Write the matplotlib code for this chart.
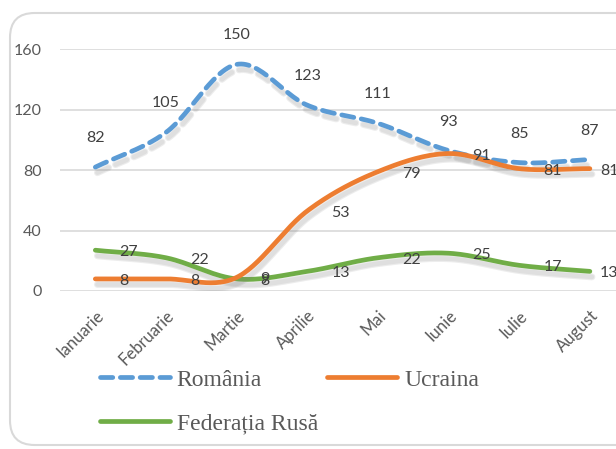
import numpy as np
import matplotlib
matplotlib.use("Agg")
import matplotlib.pyplot as plt
import matplotlib.patheffects as pe
from matplotlib.patches import FancyBboxPatch
from matplotlib.lines import Line2D

months = ["Ianuarie", "Februarie", "Martie", "Aprilie", "Mai", "Iunie", "Iulie", "August"]
romania = [82, 105, 150, 123, 111, 93, 85, 87]
ucraina = [8, 8, 9, 53, 79, 91, 81, 81]
rusia = [27, 22, 8, 13, 22, 25, 17, 13]
yticks = [0, 40, 80, 120, 160]

C_RO = "#5B9BD5"
C_UA = "#ED7D31"
C_RU = "#70AD47"

W, H = 616, 449
fig = plt.figure(figsize=(W / 100, H / 100), dpi=100)

# rounded chart border
border = FancyBboxPatch((10 / W, 4 / H), (W + 40) / W, (H - 13 - 4) / H,
                        boxstyle="round,pad=0,rounding_size=0.04",
                        transform=fig.transFigure, fc="none", ec="#D9D9D9", lw=1.5,
                        mutation_aspect=W / H, zorder=-1)
fig.patches.append(border)

ax = fig.add_axes([60 / W, (H - 291) / H, (W - 60) / W, (291 - 49.3) / H])
ax.set_facecolor("none")
ax.set_xlim(-0.5, 7.37)
ax.set_ylim(0, 160)
for s in ax.spines.values():
    s.set_visible(False)
ax.set_yticks(yticks)
ax.yaxis.grid(True, color="#D9D9D9", lw=1.2)
ax.set_axisbelow(True)
ax.tick_params(axis="both", length=0, colors="#595959")
ax.tick_params(axis="y", pad=13, labelsize=11.5)
ax.set_xticks(range(len(months)))
ax.set_xticklabels(months, rotation=45, ha="right", va="top", rotation_mode="anchor",
                   fontfamily="Lato", fontsize=12)
for t in ax.get_yticklabels():
    t.set_fontfamily("Lato")
ax.tick_params(axis="x", pad=12)


def smooth(y, n=30):
    x = np.arange(len(y), dtype=float)
    y = np.asarray(y, dtype=float)
    P = np.column_stack([x, y])
    P = np.vstack([P[0] * 2 - P[1], P, P[-1] * 2 - P[-2]])
    out = []
    for i in range(1, len(P) - 2):
        p0, p1, p2, p3 = P[i - 1], P[i], P[i + 1], P[i + 2]
        t = np.linspace(0, 1, n, endpoint=(i == len(P) - 3))[:, None]
        b1 = p1 + (p2 - p0) / 6
        b2 = p2 - (p3 - p1) / 6
        pts = ((1 - t) ** 3) * p1 + 3 * ((1 - t) ** 2) * t * b1 + 3 * (1 - t) * t ** 2 * b2 + t ** 3 * p2
        out.append(pts)
    out = np.vstack(out)
    return out[:, 0], out[:, 1]


shadow = [pe.SimpleLineShadow(offset=(1.5, -4), shadow_color="#808080", alpha=0.14, linewidth=5),
          pe.SimpleLineShadow(offset=(1.5, -4), shadow_color="#808080", alpha=0.12), pe.Normal()]

xr, yr = smooth(romania)
ax.plot(xr, yr, color=C_RO, lw=3.4, ls=(0, (2.6, 1.6)), dash_capstyle="round",
        solid_capstyle="round", path_effects=shadow, label="România", zorder=3)
xu, yu = smooth(ucraina)
ax.plot(xu, yu, color=C_UA, lw=3.4, solid_capstyle="round", path_effects=shadow,
        label="Ucraina", zorder=4)
xg, yg = smooth(rusia)
ax.plot(xg, yg, color=C_RU, lw=3.4, solid_capstyle="round", path_effects=shadow,
        label="Federația Rusă", zorder=3)

lab_kw = dict(fontsize=11.5, color="#404040", fontfamily="Lato", clip_on=False, zorder=6)
for i, v in enumerate(romania):
    ax.annotate(str(v), (i, v), xytext=(0, 29), textcoords="offset pixels",
                ha="center", va="center", **lab_kw)
for series in (ucraina, rusia):
    for i, v in enumerate(series):
        dx = 24 if i < len(series) - 1 else 10
        ax.annotate(str(v), (i, v), xytext=(dx, -2), textcoords="offset pixels",
                    ha="left", va="center", **lab_kw)

handles = [Line2D([], [], color=C_RO, lw=3.4, ls=(0, (2.6, 1.6)), dash_capstyle="round"),
           Line2D([], [], color=C_RU, lw=3.4, solid_capstyle="round"),
           Line2D([], [], color=C_UA, lw=3.4, solid_capstyle="round")]
labels = ["România", "Federația Rusă", "Ucraina"]
fig.legend(handles, labels, ncol=2, loc="upper left",
           bbox_to_anchor=(100 / W, 1 - 369 / H), frameon=False,
           prop={"family": "Liberation Serif", "size": 17}, labelcolor="#595959",
           handlelength=2.95, handletextpad=0.3, columnspacing=0.4,
           labelspacing=0.95, borderpad=0, borderaxespad=0)

fig.savefig("out.png", dpi=100)
